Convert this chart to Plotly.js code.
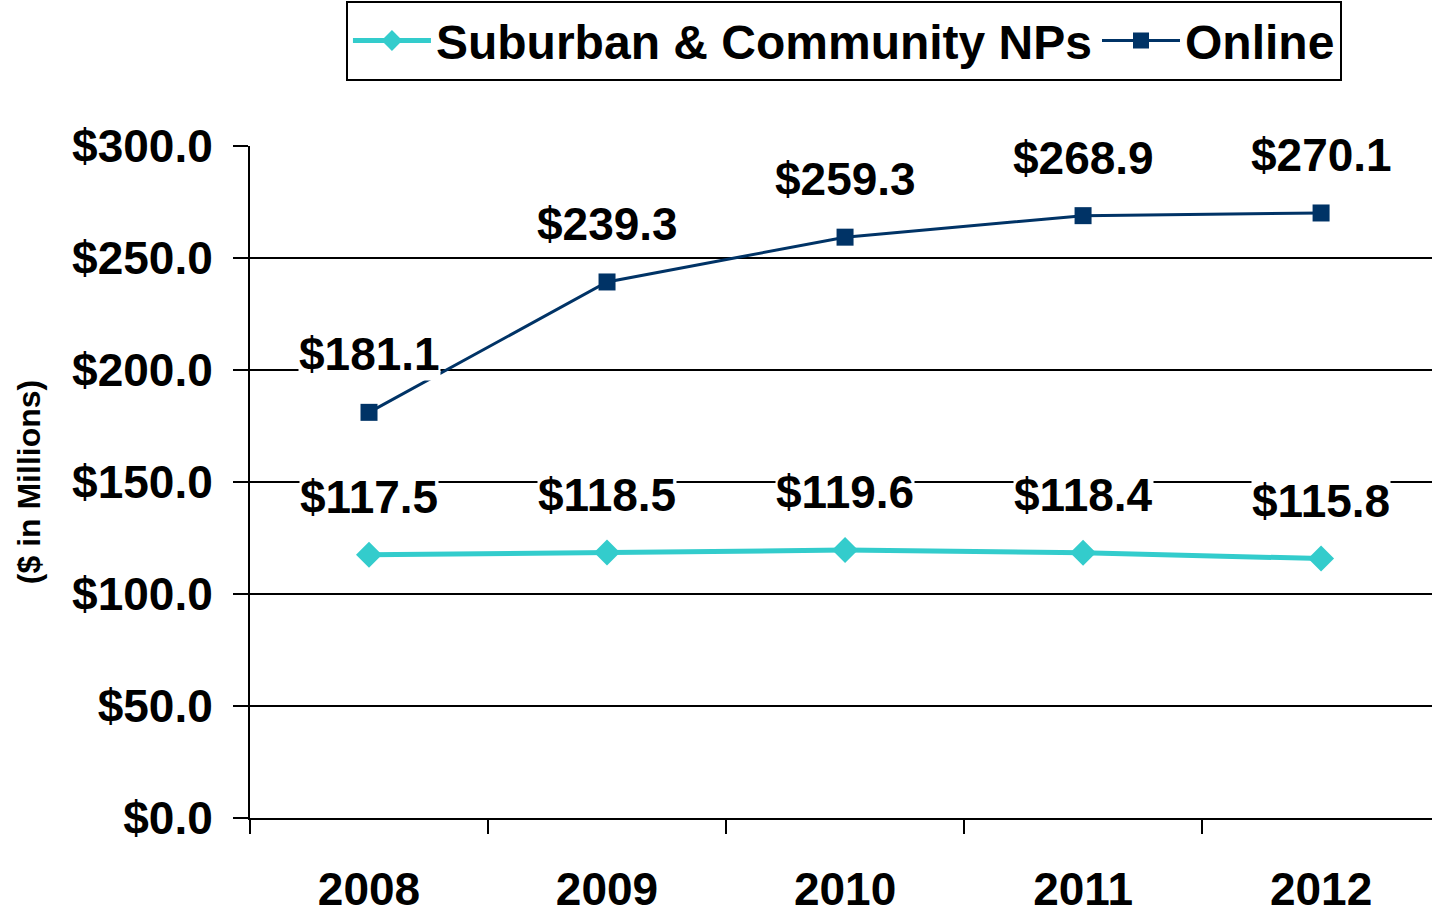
<!DOCTYPE html>
<html>
<head>
<meta charset="utf-8">
<script src="https://cdn.plot.ly/plotly-3.0.1.min.js"></script>
<style>html,body{margin:0;padding:0;background:#fff;}#chart{width:1432px;height:915px;}</style>
</head>
<body>
<div id="chart"></div>
<script>
const years = ['2008', '2009', '2010', '2011', '2012'];
const suburban = [117.5, 118.5, 119.6, 118.4, 115.8];
const online = [181.1, 239.3, 259.3, 268.9, 270.1];
const yTickVals = [0, 50, 100, 150, 200, 250, 300];
const yTickText = ['$0.0', '$50.0', '$100.0', '$150.0', '$200.0', '$250.0', '$300.0'];

const FONT = 'Liberation Sans, Arial, sans-serif';

const traces = [
  {
    x: years, y: suburban, name: 'Suburban & Community NPs', type: 'scatter', mode: 'lines+markers',
    line: {color: '#33CCCC', width: 5},
    marker: {symbol: 'diamond', size: 20, color: '#33CCCC'}
  },
  {
    x: years, y: online, name: 'Online', type: 'scatter', mode: 'lines+markers',
    line: {color: '#003366', width: 3},
    marker: {symbol: 'square', size: 17, color: '#003366'}
  }
];

const annotations = [];
[suburban, online].forEach(series => {
  series.forEach((v, i) => {
    annotations.push({
      x: i, y: v, xref: 'x', yref: 'y', text: '<b>$' + v.toFixed(1) + '</b>',
      showarrow: false, yshift: 58, xanchor: 'center', yanchor: 'middle',
      bgcolor: '#ffffff', borderpad: 0,
      font: {family: FONT, size: 46, color: '#000000'}
    });
  });
});

const layout = {
  width: 1432, height: 915,
  margin: {l: 250, r: 0, t: 146, b: 97, autoexpand: false},
  paper_bgcolor: '#fff', plot_bgcolor: '#fff',
  font: {family: FONT, color: '#000'},
  showlegend: true,
  legend: {
    orientation: 'h', x: 0.5025, xref: 'paper', xanchor: 'center', y: 1.097, yanchor: 'bottom',
    bordercolor: '#000', borderwidth: 2, bgcolor: '#fff',
    font: {family: FONT, size: 48, color: '#000', weight: 'bold'},
    itemwidth: 78, tracegroupgap: 0
  },
  xaxis: {
    type: 'category', range: [-0.5, 4.466], fixedrange: true,
    showline: true, linecolor: '#000', linewidth: 2,
    ticks: 'outside', tickson: 'boundaries', ticklen: 14, tickwidth: 2, tickcolor: '#000',
    showgrid: false, zeroline: false,
    tickfont: {family: FONT, size: 46, color: '#000', weight: 'bold'},
    ticklabelstandoff: 30
  },
  yaxis: {
    range: [0, 300], fixedrange: true,
    tickvals: yTickVals, ticktext: yTickText,
    showline: true, linecolor: '#000', linewidth: 2,
    ticks: 'outside', ticklen: 15, tickwidth: 1.5, tickcolor: '#000',
    showgrid: true, gridcolor: '#000', gridwidth: 1.5, zeroline: false,
    tickfont: {family: FONT, size: 46, color: '#000', weight: 'bold'},
    ticklabelstandoff: 11,
    title: {text: '<b>($ in Millions)</b>', font: {family: FONT, size: 32, color: '#000'}, standoff: 22}
  },
  annotations: annotations
};

Plotly.newPlot('chart', traces, layout, {displayModeBar: false, staticPlot: true});
</script>
</body>
</html>
